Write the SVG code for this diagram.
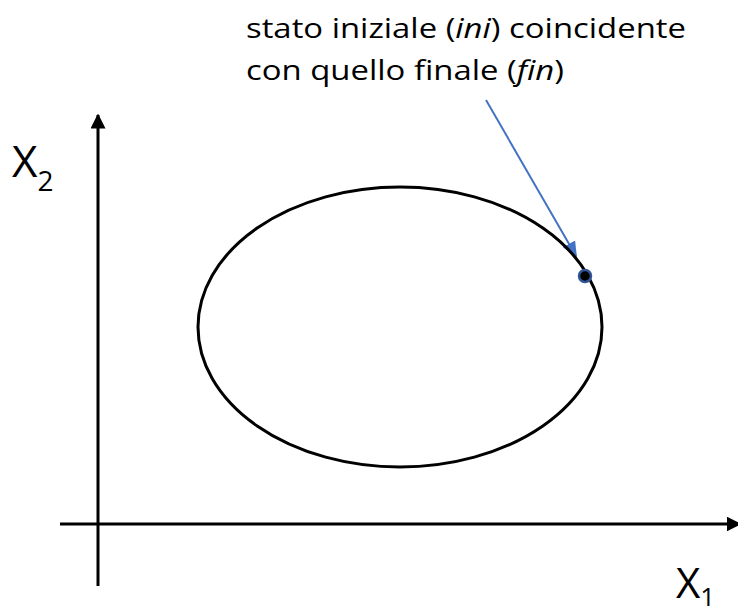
<svg xmlns="http://www.w3.org/2000/svg" width="738" height="614" viewBox="0 0 738 614">
<style>
.ax{stroke:#000;stroke-width:3;fill:none}
.t{font-family:"Open Sans","Noto Sans",sans-serif;fill:#000}
</style>
<defs>
<marker id="ah" markerWidth="5" markerHeight="5" refX="4.5" refY="2.5" orient="auto" markerUnits="strokeWidth"><path d="M0,0 L5,2.5 L0,5 z" fill="#000"/></marker>
<marker id="bh" markerWidth="8" markerHeight="8" refX="7" refY="4" orient="auto" markerUnits="strokeWidth"><path d="M0,0.5 L8,4 L0,7.5 z" fill="#4472C4"/></marker>
</defs>
<g id="connectors">
<line class="ax" x1="98" y1="586" x2="98" y2="115" marker-end="url(#ah)"/>
<line class="ax" x1="60" y1="524" x2="740" y2="524" marker-end="url(#ah)"/>
<line x1="486" y1="100" x2="576" y2="256" stroke="#4472C4" stroke-width="2" marker-end="url(#bh)"/>
</g>
<g id="ellipse"><ellipse cx="400" cy="327" rx="202" ry="140" class="ax"/></g>
<g id="point"><circle cx="585" cy="276" r="6" fill="#000" stroke="#2F5597" stroke-width="2.5"/></g>
<g id="label-x2"><text class="t" x="12" y="177" font-size="44">X<tspan font-size="28" dy="14">2</tspan></text></g>
<g id="label-x1"><text class="t" x="676" y="598" font-size="42">X<tspan font-size="26" dy="8">1</tspan></text></g>
<g id="note">
<text class="t" x="246" y="38" font-size="27" textLength="440" lengthAdjust="spacingAndGlyphs">stato iniziale (<tspan font-style="italic">ini</tspan>) coincidente</text>
<text class="t" x="246" y="80" font-size="27" textLength="318" lengthAdjust="spacingAndGlyphs">con quello finale (<tspan font-style="italic">fin</tspan>)</text>
</g>
</svg>
